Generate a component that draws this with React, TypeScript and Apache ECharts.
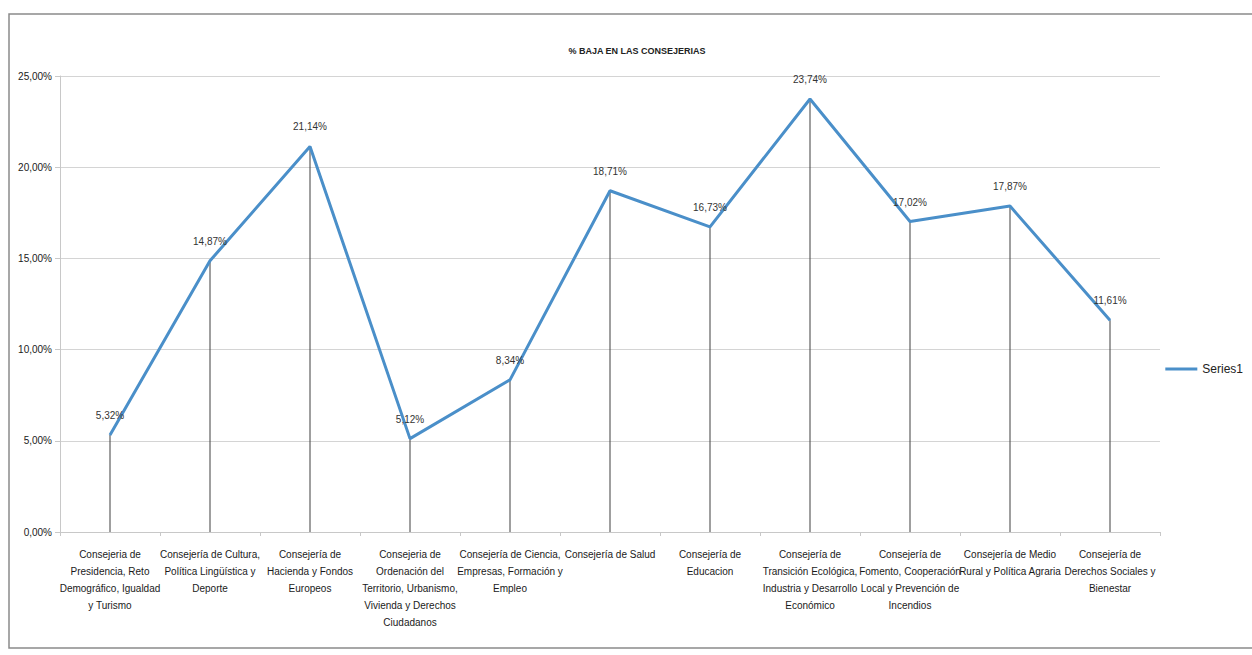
import React, { useEffect, useRef } from "react";
import * as echarts from "echarts";

const categories: string[] = [
  "Consejeria de\nPresidencia, Reto\nDemográfico, Igualdad\ny Turismo",
  "Consejería de Cultura,\nPolítica Lingüística y\nDeporte",
  "Consejería de\nHacienda y Fondos\nEuropeos",
  "Consejeria de\nOrdenación del\nTerritorio, Urbanismo,\nVivienda y Derechos\nCiudadanos",
  "Consejería de Ciencia,\nEmpresas, Formación y\nEmpleo",
  "Consejería de Salud",
  "Consejería de\nEducacion",
  "Consejería de\nTransición Ecológica,\nIndustria y Desarrollo\nEconómico",
  "Consejería de\nFomento, Cooperación\nLocal y Prevención de\nIncendios",
  "Consejería de Medio\nRural y Política Agraria",
  "Consejería de\nDerechos Sociales y\nBienestar",
];

const series1: number[] = [5.32, 14.87, 21.14, 5.12, 8.34, 18.71, 16.73, 23.74, 17.02, 17.87, 11.61];

const titleText = "% BAJA EN LAS CONSEJERIAS";
const seriesName = "Series1";

const FONT = "'Liberation Sans', Arial, sans-serif";

const pct = (v: number) => v.toFixed(2).replace(".", ",") + "%";

export default function App() {
  const ref = useRef<HTMLDivElement>(null);
  useEffect(() => {
    document.body.style.margin = "0";
    const chart = echarts.init(ref.current!, null, { renderer: "svg" });
    chart.setOption({
      animation: false,
      backgroundColor: "#ffffff",
      textStyle: { fontFamily: FONT },
      title: {
        text: titleText,
        left: 632,
        textAlign: "center",
        top: 41,
        textStyle: { fontFamily: FONT, fontSize: 9, fontWeight: "bold", color: "#222" },
      },
      graphic: [
        {
          type: "rect",
          shape: { x: 9, y: 14, width: 1260, height: 634 },
          style: { fill: "none", stroke: "#8a8a8a", lineWidth: 1.5 },
          silent: true,
        },
      ],
      legend: {
        data: [seriesName],
        right: 4,
        top: 358,
        itemWidth: 32,
        itemHeight: 3,
        itemGap: 4,
        icon: "rect",
        textStyle: { fontFamily: FONT, fontSize: 12, color: "#222" },
      },
      grid: { left: 60, right: 92, top: 76, bottom: 123, containLabel: false },
      xAxis: {
        type: "category",
        data: categories,
        boundaryGap: true,
        axisLine: { show: true, lineStyle: { color: "#c8c8c8", width: 1 } },
        axisTick: { show: true, alignWithLabel: false, length: 4, lineStyle: { color: "#c8c8c8" } },
        axisLabel: {
          interval: 0,
          fontFamily: FONT,
          fontSize: 10,
          color: "#1a1a1a",
          lineHeight: 17,
          margin: 14,
          align: "center",
        },
        splitLine: { show: false },
      },
      yAxis: {
        type: "value",
        min: 0,
        max: 25,
        interval: 5,
        axisLine: { show: true, lineStyle: { color: "#c8c8c8" } },
        axisTick: { show: true, length: 5, lineStyle: { color: "#c8c8c8" } },
        axisLabel: {
          formatter: (v: number) => pct(v),
          fontFamily: FONT,
          fontSize: 10,
          color: "#1a1a1a",
          margin: 8,
        },
        splitLine: { show: true, lineStyle: { color: "#d4d4d4", width: 1 } },
      },
      series: [
        {
          name: "drop",
          type: "bar",
          data: series1,
          barWidth: 1,
          itemStyle: { color: "#404040" },
          silent: true,
          z: 1,
        },
        {
          name: seriesName,
          type: "line",
          data: series1,
          symbol: "circle",
          symbolSize: 1,
          showSymbol: true,
          lineStyle: { color: "#4a8fc9", width: 3 },
          itemStyle: { color: "#4a8fc9" },
          z: 3,
          label: {
            show: true,
            position: "top",
            distance: 14,
            formatter: (p: any) => pct(p.value),
            fontFamily: FONT,
            fontSize: 10,
            color: "#333",
          },
        },
      ],
    });
    return () => chart.dispose();
  }, []);
  return <div ref={ref} style={{ width: 1252, height: 655 }} />;
}
